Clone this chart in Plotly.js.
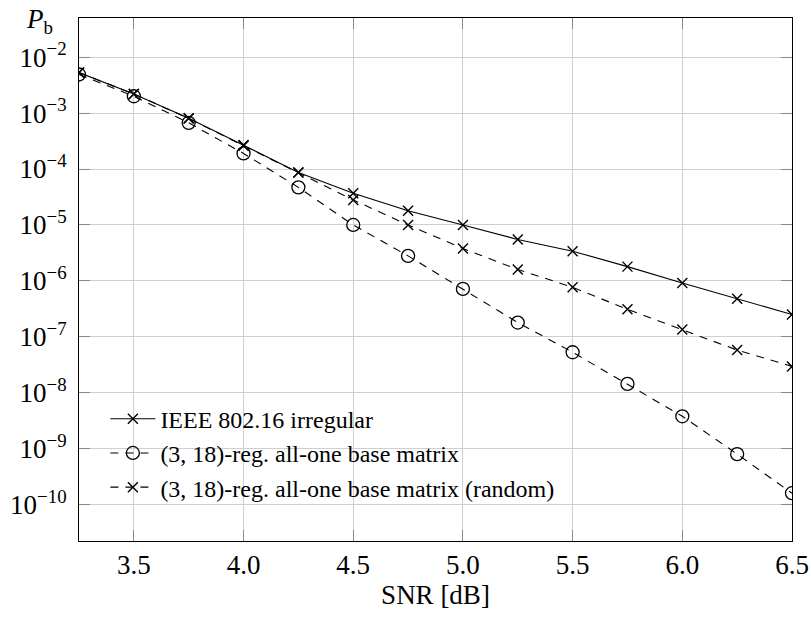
<!DOCTYPE html>
<html>
<head>
<meta charset="utf-8">
<script src="https://cdn.plot.ly/plotly-3.0.1.min.js"></script>
<style>html,body{margin:0;padding:0;background:#fff;}#chart{width:811px;height:617px;}</style>
</head>
<body>
<div id="chart"></div>
<script>
const snr = [3.25, 3.5, 3.75, 4.0, 4.25, 4.5, 4.75, 5.0, 5.25, 5.5, 5.75, 6.0, 6.25, 6.5];
const ieeeIrregular = [5.3e-3, 2.2e-3, 8.1e-4, 2.7e-4, 8.7e-5, 3.7e-5, 1.8e-5, 1.0e-5, 5.5e-6, 3.4e-6, 1.8e-6, 9.2e-7, 4.8e-7, 2.5e-7];
const allOneBase = [4.9e-3, 2.0e-3, 6.7e-4, 1.9e-4, 4.7e-5, 1.0e-5, 2.8e-6, 7.2e-7, 1.8e-7, 5.3e-8, 1.44e-8, 3.8e-9, 8.0e-10, 1.6e-10];
const allOneRandom = [5.3e-3, 2.2e-3, 8.0e-4, 2.6e-4, 8.7e-5, 2.8e-5, 1.0e-5, 3.8e-6, 1.6e-6, 7.7e-7, 3.1e-7, 1.35e-7, 5.8e-8, 2.96e-8];
const seriesNames = ["IEEE 802.16 irregular", "(3, 18)-reg. all-one base matrix", "(3, 18)-reg. all-one base matrix (random)"];
const xTickVals = [3.5, 4.0, 4.5, 5.0, 5.5, 6.0, 6.5];
const xTickText = ["3.5", "4.0", "4.5", "5.0", "5.5", "6.0", "6.5"];
const yTickExps = [-2, -3, -4, -5, -6, -7, -8, -9, -10];

const FONT = "Liberation Serif, Times New Roman, serif";
const crossMarker = {symbol: "x-thin-open", size: 10, color: "#000", line: {color: "#000", width: 1.4}};
const circleMarker = {symbol: "circle-open", size: 13, color: "#000", line: {color: "#000", width: 1.3}};

const traces = [
  {x: snr, y: ieeeIrregular, name: seriesNames[0], mode: "lines+markers",
   line: {color: "#000", width: 1.1, dash: "solid"}, marker: crossMarker},
  {x: snr, y: allOneBase, name: seriesNames[1], mode: "lines+markers",
   line: {color: "#000", width: 1.1, dash: "8px,7px"}, marker: circleMarker},
  {x: snr, y: allOneRandom, name: seriesNames[2], mode: "lines+markers",
   line: {color: "#000", width: 1.1, dash: "8px,7px"}, marker: crossMarker}
];

const layout = {
  width: 811, height: 617,
  margin: {l: 79, r: 19, t: 18, b: 76},
  paper_bgcolor: "#fff", plot_bgcolor: "#fff",
  font: {family: FONT, size: 24, color: "#000"},
  showlegend: true,
  legend: {x: 0.037, y: 0.276, xanchor: "left", yanchor: "top",
           bgcolor: "rgba(255,255,255,0)", borderwidth: 0,
           font: {family: FONT, size: 24, color: "#000"}, itemwidth: 45, tracegroupgap: 0},
  xaxis: {
    range: [3.25, 6.5], tickvals: xTickVals, ticktext: xTickText,
    showgrid: true, gridcolor: "#cfcfcf", gridwidth: 1, zeroline: false,
    showline: true, linecolor: "#000", linewidth: 1, mirror: "allticks",
    ticks: "inside", ticklen: 11, tickcolor: "#8a8a8a", tickwidth: 1,
    tickfont: {family: FONT, size: 27}, ticklabelstandoff: 0,
    title: {text: "SNR [dB]", font: {family: FONT, size: 27}, standoff: 0}
  },
  yaxis: {
    type: "log", range: [-10.65, -1.30],
    tickvals: yTickExps.map(e => Math.pow(10, e)),
    ticktext: yTickExps.map(e => "10<sup>\u2212" + Math.abs(e) + "</sup>"),
    showgrid: true, gridcolor: "#cfcfcf", gridwidth: 1, zeroline: false,
    showline: true, linecolor: "#000", linewidth: 1, mirror: "allticks",
    ticks: "inside", ticklen: 11, tickcolor: "#8a8a8a", tickwidth: 1,
    tickfont: {family: FONT, size: 27}, ticklabelstandoff: 6
  },
  annotations: [{
    text: "<i>P</i><sub>b</sub>", xref: "paper", yref: "paper",
    x: -0.0547, y: 0.994, xanchor: "center", yanchor: "middle", showarrow: false,
    font: {family: FONT, size: 27, color: "#000"}
  }]
};

Plotly.newPlot("chart", traces, layout, {staticPlot: true, displayModeBar: false});
</script>
</body>
</html>
